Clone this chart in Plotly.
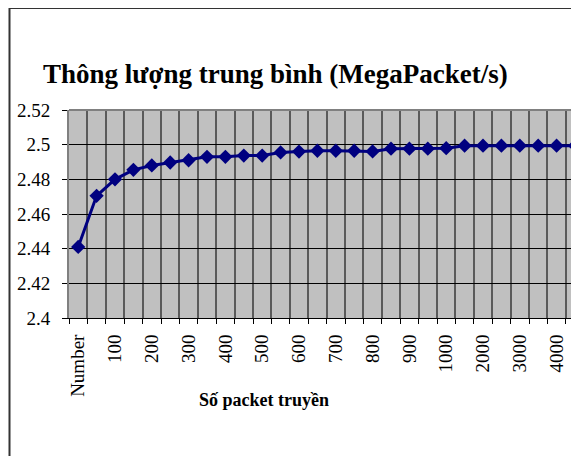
import plotly.graph_objects as go

categories = ["Number", "50", "100", "150", "200", "250", "300", "350", "400", "450",
              "500", "550", "600", "650", "700", "750", "800", "850", "900", "950",
              "1000", "1500", "2000", "2500", "3000", "3500", "4000", "4500"]
throughput = [2.441, 2.4705, 2.480, 2.4855, 2.488, 2.4897, 2.491, 2.493, 2.493, 2.4937,
              2.4937, 2.4955, 2.496, 2.4965, 2.4965, 2.4965, 2.4961, 2.4977, 2.4977, 2.4977,
              2.498, 2.4994, 2.4994, 2.4994, 2.4994, 2.4994, 2.4994, 2.4994]
y_ticks = [2.4, 2.42, 2.44, 2.46, 2.48, 2.5, 2.52]
y_ticktext = ["2.4", "2.42", "2.44", "2.46", "2.48", "2.5", "2.52"]
x_ticktext = [c if i % 2 == 0 else "" for i, c in enumerate(categories)]

title_text = "Thông lượng trung bình (MegaPacket/s)"
x_title = "Số packet truyền"

OFF = 8  # browser body margin
W, H = 579 - OFF, 456 - OFF
L, R, T, B = 69 - OFF, 0, 110 - OFF, 138
pw = W - L - R
ph = H - T - B


def px_x(x):
    return (x - OFF - L) / pw


def px_y(y):
    return (H - B - (y - OFF)) / ph


fig = go.Figure()
fig.add_trace(go.Scatter(
    x=categories, y=throughput, mode="lines+markers",
    line=dict(color="#000080", width=3),
    marker=dict(symbol="diamond", size=11, color="#000080"),
    showlegend=False, cliponaxis=False,
))

font_family = "Liberation Serif"

fig.update_layout(
    width=W, height=H,
    margin=dict(l=L, r=R, t=T, b=B, pad=0),
    paper_bgcolor="white",
    plot_bgcolor="#C0C0C0",
    font=dict(family=font_family, color="black", size=19),
    xaxis=dict(
        type="category",
        range=[-0.5, len(categories) - 1 + 4 / 18.4],
        tickmode="array", tickvals=categories, ticktext=x_ticktext,
        tickson="boundaries",
        tickangle=-90,
        ticks="outside", ticklen=5, tickcolor="black", tickwidth=1,
        showgrid=True, gridcolor="#5a5a5a", gridwidth=1.5,
        showline=True, linecolor="black", linewidth=1,
        ticklabelstandoff=8,
        tickfont=dict(size=19, family=font_family, color="black"),
        zeroline=False,
    ),
    yaxis=dict(
        range=[2.4, 2.52],
        tickmode="array", tickvals=y_ticks, ticktext=y_ticktext,
        ticks="outside", ticklen=5, tickcolor="black", tickwidth=1,
        showgrid=True, gridcolor="black", gridwidth=1,
        showline=True, linecolor="#808080", linewidth=2,
        ticklabelstandoff=8,
        tickfont=dict(size=19, family=font_family, color="black"),
        zeroline=False,
    ),
    annotations=[
        dict(text="<b>" + title_text + "</b>", xref="paper", yref="paper",
             x=px_x(275), y=px_y(74), xanchor="center", yanchor="middle",
             showarrow=False, font=dict(size=27, family=font_family, color="black")),
        dict(text="<b>" + x_title + "</b>", xref="paper", yref="paper",
             x=px_x(264), y=px_y(400), xanchor="center", yanchor="middle",
             showarrow=False, font=dict(size=18, family=font_family, color="black")),
    ],
    shapes=[
        dict(type="line", xref="paper", yref="paper", x0=0, x1=1, y0=1, y1=1,
             line=dict(color="#808080", width=2), layer="above"),
        dict(type="rect", xref="paper", yref="paper",
             x0=px_x(9.5), x1=px_x(600),
             y0=px_y(480), y1=px_y(8),
             line=dict(color="#333333", width=2), fillcolor="rgba(0,0,0,0)", layer="above"),
    ],
)

fig.write_html("out.html")
